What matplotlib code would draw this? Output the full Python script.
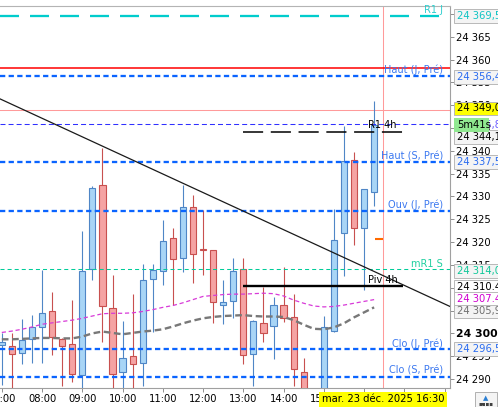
import matplotlib
matplotlib.use("Agg")
import matplotlib.pyplot as plt
from matplotlib.patches import Rectangle
from matplotlib.transforms import blended_transform_factory
import numpy as np

plt.rcParams['font.family'] = 'DejaVu Sans'
plt.rcParams['font.size'] = 7
plt.rcParams['lines.scale_dashes'] = False

# 15 min candles, 23 Dec 2025
times = ["07:00", "07:15", "07:30", "07:45", "08:00", "08:15", "08:30", "08:45",
         "09:00", "09:15", "09:30", "09:45", "10:00", "10:15", "10:30", "10:45",
         "11:00", "11:15", "11:30", "11:45", "12:00", "12:15", "12:30", "12:45",
         "13:00", "13:15", "13:30", "13:45", "14:00", "14:15", "14:30", "14:45",
         "15:00", "15:15", "15:30", "15:45", "16:00", "16:15"]
opens = [24297.4, 24297.3, 24295.8, 24298.8, 24301.3, 24304.8, 24298.8, 24297.6,
         24290.8, 24314.0, 24332.4, 24305.5, 24291.5, 24295.0, 24293.6, 24312.0,
         24313.6, 24320.8, 24316.6, 24327.6, 24318.5, 24318.2, 24306.3, 24307.2,
         24314.2, 24295.4, 24302.2, 24301.7, 24306.3, 24303.6, 24291.6, 24284.8,
         24282.0, 24300.6, 24322.1, 24337.9, 24323.0, 24330.9]
highs = [24300.1, 24300.0, 24303.1, 24304.0, 24313.9, 24309.0, 24298.9, 24307.3,
         24322.4, 24332.2, 24340.7, 24312.8, 24302.7, 24308.7, 24315.1, 24315.1,
         24324.8, 24323.0, 24332.4, 24330.3, 24327.0, 24318.2, 24311.8, 24316.6,
         24316.6, 24302.9, 24310.1, 24307.9, 24314.6, 24308.6, 24294.7, 24287.0,
         24303.8, 24327.2, 24345.4, 24339.7, 24331.7, 24351.0]
lows = [24288.7, 24287.5, 24293.2, 24293.4, 24293.4, 24295.2, 24288.4, 24289.4,
        24287.5, 24311.7, 24298.0, 24288.0, 24287.5, 24288.0, 24288.5, 24300.3,
        24310.6, 24306.2, 24313.5, 24311.1, 24312.8, 24302.3, 24302.0, 24303.4,
        24293.3, 24288.4, 24298.2, 24294.3, 24302.4, 24288.4, 24283.0, 24279.5,
        24281.0, 24300.4, 24312.6, 24319.3, 24309.5, 24328.0]
closes = [24298.0, 24295.4, 24298.5, 24301.3, 24304.4, 24299.3, 24297.2, 24291.2,
          24313.6, 24331.9, 24306.0, 24291.0, 24294.5, 24293.2, 24311.6, 24313.8,
          24320.3, 24316.2, 24327.6, 24317.5, 24318.2, 24306.8, 24306.8, 24313.6,
          24295.2, 24302.7, 24300.1, 24306.3, 24303.4, 24292.3, 24284.5, 24281.5,
          24301.3, 24320.4, 24337.7, 24323.0, 24331.6, 24345.7]

ma_fast = [24300.2, 24300.5, 24300.9, 24301.4, 24302.0, 24302.3, 24302.6, 24302.9,
           24303.3, 24303.8, 24304.3, 24304.4, 24304.4, 24304.5, 24304.8, 24305.2,
           24305.7, 24306.1, 24306.7, 24307.4, 24308.1, 24308.3, 24308.5, 24308.6,
           24308.6, 24308.7, 24308.8, 24308.7, 24308.2, 24307.3, 24306.6, 24306.0,
           24305.8, 24305.9, 24306.2, 24306.6, 24307.0, 24307.4]
ma_slow = [24298.7, 24298.7, 24298.8, 24298.9, 24299.0, 24299.0, 24298.9, 24298.9,
           24299.3, 24300.0, 24300.4, 24300.1, 24299.8, 24300.1, 24300.4, 24300.6,
           24300.9, 24301.5, 24302.2, 24302.8, 24303.3, 24303.6, 24303.8, 24303.9,
           24304.0, 24303.8, 24303.7, 24303.7, 24303.6, 24302.9, 24301.9, 24301.0,
           24300.9, 24301.3, 24302.2, 24303.5, 24304.6, 24305.7]

# pivot levels
level_names = ["R1 J", "Haut (J, Pré)", "Haut (S, Pré)", "Ouv (J, Pré)", "mR1 S", "Clo (J, Pré)", "Clo (S, Pré)"]
level_prices = [24369.5, 24356.4, 24337.5, 24326.9, 24314.0, 24296.5, 24290.5]
day_high = 24358.1
last_high = 24349.0
timer_price = 24345.8
r1_4h = 24344.1
piv_4h = 24310.4
marker_price = 24320.7
trend_times = ["06:57", "18:08"]
trend_prices = [24351.4, 24305.9]
now_time = "16:28"

# right scale boxes: text, position, text colour, face colour
right_labels = [
    ("24 369,5", 24369.5, '#10c4c4', '#f4f4f4'),
    ("24 356,4", 24356.1, '#2a6cf0', '#f4f4f4'),
    ("24 349,0", 24349.3, 'black', '#ffff00'),
    ("24 344,1", 24343.0, 'black', '#f4f4f4'),
    ("24 337,5", 24337.5, '#2a6cf0', '#f4f4f4'),
    ("24 314,0", 24313.7, '#10c89a', '#f4f4f4'),
    ("24 310.4", 24310.1, 'black', '#ffffff'),
    ("24 307.4", 24307.5, '#d000d0', '#ffffff'),
    ("24 305,9", 24304.8, '#707070', '#f4f4f4'),
    ("24 296,5", 24296.6, '#2a6cf0', '#f4f4f4'),
]


def to_h(t):
    return int(t[:2]) + int(t[3:]) / 60


x = np.array([to_h(t) for t in times])
o = np.array(opens)
h = np.array(highs)
l = np.array(lows)
c = np.array(closes)
up = c >= o

fig = plt.figure(figsize=(4.98, 4.07), dpi=100)
ax = fig.add_axes([0, 19 / 407, 450 / 498, 382 / 407])
ax.set_xlim(6.955, 18.135)
ax.set_ylim(24288.03, 24371.73)

blue_edge, blue_fill = '#4f86c6', '#a8d5f6'
red_edge, red_fill = '#c8504f', '#f5a3a3'
edges = np.where(up, blue_edge, red_edge)
fills = np.where(up, blue_fill, red_fill)

ax.vlines(x, l, h, colors=edges, lw=0.8, zorder=3)
ax.bar(x, c - o, bottom=o, width=0.155, color=fills, edgecolor=edges, lw=0.8, zorder=4)

# levels
blue_lvl = '#0a64ff'
ax.axhline(level_prices[0], color='#00cccc', lw=1.65, dashes=(13.7, 7.9), zorder=5)
ax.axhline(day_high, color='#ff0000', lw=1.1, zorder=5)
for p in [level_prices[1], level_prices[2], level_prices[3], level_prices[5], level_prices[6]]:
    ax.axhline(p, color=blue_lvl, lw=1.65, dashes=(3.8, 2.4), zorder=5)
ax.axhline(last_high, color='#ff9a9a', lw=0.75, zorder=2)
ax.axhline(timer_price, color='#3030ff', lw=0.75, dashes=(3.6, 2.2), zorder=5)
ax.axhline(level_prices[4], color='#00cc99', lw=0.75, dashes=(2.9, 2.2), zorder=5)
ax.axvline(to_h(now_time), color='#ff9a9a', lw=0.75, zorder=2)

ax.hlines(r1_4h, 13.0, 16.97, color='black', lw=1.1, linestyles=[(0, (14.5, 5.5))], zorder=5)
ax.hlines(piv_4h, 13.0, 16.97, color='black', lw=1.7, zorder=5)
ax.hlines(marker_price, 16.26, to_h(now_time), color='#ff6a00', lw=1.5, zorder=5)
ax.plot([to_h(t) for t in trend_times], trend_prices, color='#1a1a1a', lw=0.9, zorder=5)

ax.plot(x, ma_fast, color='#d83ad8', lw=0.9, dashes=(3, 2), zorder=6)
ax.plot(x, ma_slow, color='#787878', lw=1.7, dashes=(4.8, 2.6), zorder=6)

# level names
label_x = 17.96
name_colors = ['#2ecfcf', '#3b78f0', '#3b78f0', '#3b78f0', '#20d0a0', '#3b78f0', '#3b78f0']
for name, p, col in zip(level_names, level_prices, name_colors):
    ax.text(label_x, p + 0.6, name, color=col, ha='right', va='baseline', zorder=7)
ax.text(16.46, r1_4h + 0.8, "R1 4h", color='black', ha='center', va='baseline', zorder=7)
ax.text(16.46, piv_4h + 0.6, "Piv 4h", color='black', ha='center', va='baseline', zorder=7)

# axes look
ax.spines['left'].set_visible(False)
ax.spines['top'].set_color('#b4b4b4')
ax.spines['right'].set_color('#a0a0a0')
ax.spines['bottom'].set_color('#a0a0a0')

yt = np.arange(24290, 24371, 5)
ax.set_yticks(yt)
ax.set_yticklabels([f"{v // 1000} {v % 1000:03d}" for v in yt])
ax.yaxis.tick_right()
ax.tick_params(axis='y', length=3, width=0.7, color='#909090', pad=1.2, labelsize=7.2)
for lab in ax.get_yticklabels():
    if lab.get_text() == "24 300":
        lab.set_fontweight('bold')
        lab.set_fontsize(7.8)

xt = np.arange(7, 19)
ax.set_xticks(xt)
ax.set_xticklabels([f"{v:02d}:00" if v < 18 else "" for v in xt])
ax.tick_params(axis='x', length=3, width=0.7, color='#909090', pad=1.5, labelsize=7.2)

# right scale boxes
tr = blended_transform_factory(ax.transAxes, ax.transData)
for txt, p, tc, fc in right_labels:
    ax.add_patch(Rectangle((1.009, p - 1.5), 0.2, 3.0, transform=tr, facecolor=fc,
                           edgecolor='#b8b8b8', lw=0.7, clip_on=False, zorder=10))
    ax.text(1.016, p, txt, transform=tr, color=tc, va='center', ha='left',
            fontsize=7.2, clip_on=False, zorder=11)
ax.text(1.016, 24345.7, "24 345,8", transform=tr, color='#6a5cff', va='center',
        ha='left', fontsize=7.2, clip_on=False, zorder=11)
ax.add_patch(Rectangle((1.009, 24345.7 - 1.5), 0.077, 3.0, transform=tr, facecolor='#90e890',
                       edgecolor='none', clip_on=False, zorder=12))
ax.text(1.016, 24345.7, "5m41s", transform=tr, color='black', va='center', ha='left',
        fontsize=7.2, clip_on=False, zorder=13)

# current time box on the time scale
tx = blended_transform_factory(ax.transData, ax.transAxes)
ax.text(to_h(now_time), -0.029, "mar. 23 déc. 2025 16:30", transform=tx, ha='center',
        va='center', fontsize=7.2, clip_on=False, zorder=12,
        bbox=dict(boxstyle='square,pad=0.25', facecolor='#ffff00', edgecolor='none'))

# small button bottom right
fig.patches.append(Rectangle((475 / 498, 0.2 / 407), 22 / 498, 15 / 407, transform=fig.transFigure,
                             facecolor='#f4f4f4', edgecolor='#b0b0b0', lw=0.7))
fig.text(486 / 498, 9 / 407, "▲", color='#2a7fd4', fontsize=5, ha='center', va='center')
fig.text(486 / 498, 3 / 407, "▪▪▪▪", color='#404040', fontsize=4, ha='center', va='center')

fig.savefig("out.png", dpi=100)
